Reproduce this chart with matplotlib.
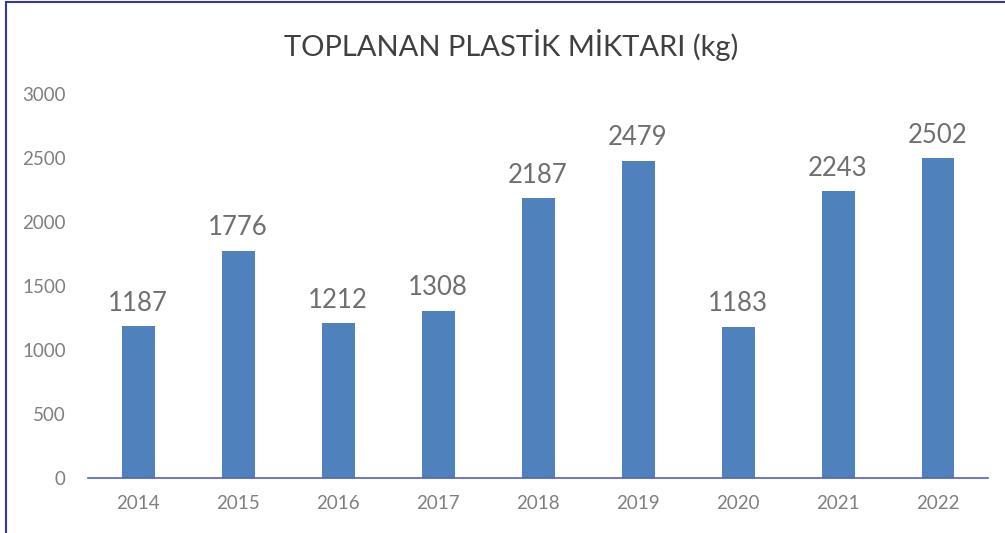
import matplotlib.pyplot as plt
from matplotlib.patches import Rectangle

years = ['2014', '2015', '2016', '2017', '2018', '2019', '2020', '2021', '2022']
amounts = [1187, 1776, 1212, 1308, 2187, 2479, 1183, 2243, 2502]
yticks = [0, 500, 1000, 1500, 2000, 2500, 3000]

plt.rcParams['font.family'] = ['Lato', 'DejaVu Sans']

fig = plt.figure(figsize=(10.05, 5.33), dpi=100)
ax = fig.add_axes([88/1005, 55/533, 900/1005, 384/533])

x = range(len(years))
ax.bar(x, amounts, width=0.33, color='#4f81bd')
for i, v in zip(x, amounts):
    ax.text(i, v + 80, str(v), ha='center', va='bottom', fontsize=18.5, color='#6f6f6f')

ax.set_xlim(-0.5, len(years) - 0.5)
ax.set_ylim(0, 3000)
ax.set_xticks(list(x))
ax.set_xticklabels(years)
ax.set_yticks(yticks)
ax.tick_params(axis='both', length=0, labelsize=13.5, colors='#7f7f7f')
ax.tick_params(axis='x', pad=12)
ax.tick_params(axis='y', pad=16)
for s in ['top', 'right', 'left']:
    ax.spines[s].set_visible(False)
ax.spines['bottom'].set_color('#5060c0')
ax.spines['bottom'].set_linewidth(1.2)

fig.text(511/1005, 1 - 45/533, 'TOPLANAN PLASTİK MİKTARI (kg)',
         ha='center', va='center', fontsize=21, color='#404040')

# chart border
fig.patches.append(Rectangle((6/1005, -0.1), 1.1, 1.1 - 2/533, transform=fig.transFigure,
                             fill=False, edgecolor='#3535a8', linewidth=1.5))

fig.savefig('out.png', dpi=100)
